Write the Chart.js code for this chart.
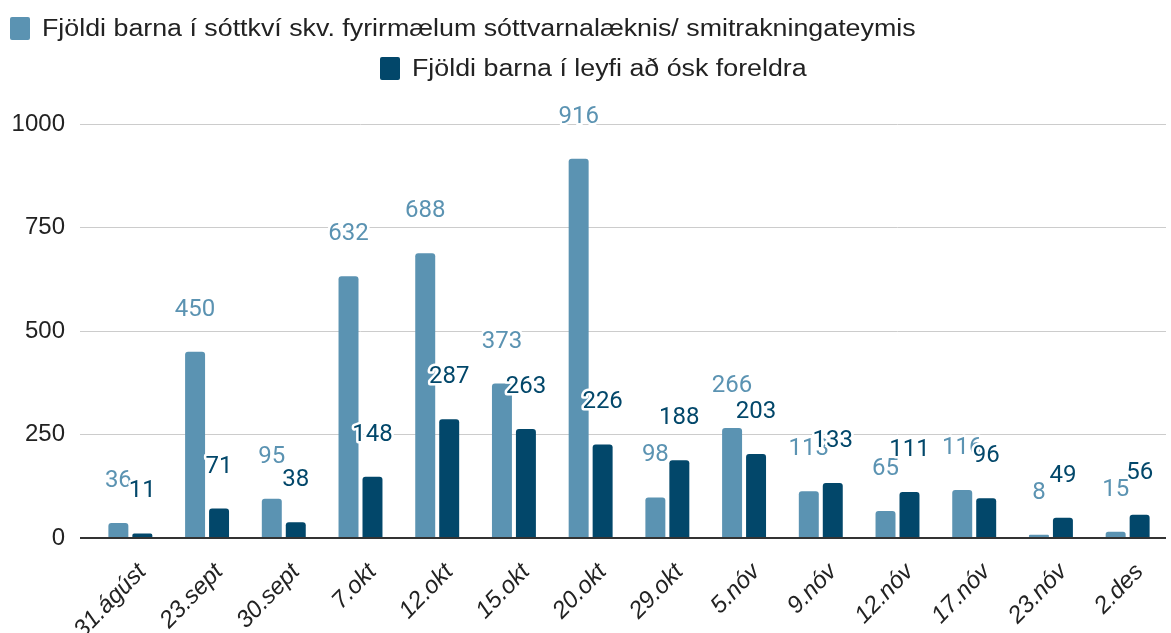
<!DOCTYPE html>
<html lang="is">
<head>
<meta charset="utf-8">
<title>Fjöldi barna</title>
<script src="https://cdn.jsdelivr.net/npm/chart.js@4/dist/chart.umd.min.js"></script>
<style>
  html, body { margin: 0; padding: 0; background: #fff; }
  #wrap { position: relative; width: 1171px; height: 633px; }
  #chart { position: absolute; left: 0; top: 0; }
  .legend-row { position: absolute; display: flex; align-items: center; font-family: "Liberation Sans", Arial, sans-serif; font-size: 23px; color: #222; white-space: nowrap; }
  .legend-row .box { width: 20px; height: 23px; border-radius: 2px; margin-right: 12px; }
  .legend-row .txt { display: inline-block; transform: scaleX(1.165); transform-origin: left center; }
</style>
</head>
<body>
<div id="wrap">
  <canvas id="chart" width="1171" height="633"></canvas>
  <div class="legend-row" id="leg0" style="left:10px; top:15px;"></div>
  <div class="legend-row" id="leg1" style="left:380px; top:55px;"></div>
</div>
<script>
const labels = ['31.ágúst', '23.sept', '30.sept', '7.okt', '12.okt', '15.okt', '20.okt',
                '29.okt', '5.nóv', '9.nóv', '12.nóv', '17.nóv', '23.nóv', '2.des'];
const seriesNames = [
  'Fjöldi barna í sóttkví skv. fyrirmælum sóttvarnalæknis/ smitrakningateymis',
  'Fjöldi barna í leyfi að ósk foreldra'
];
const quarantine = [36, 450, 95, 632, 688, 373, 916, 98, 266, 113, 65, 116, 8, 15];
const parentLeave = [11, 71, 38, 148, 287, 263, 226, 188, 203, 133, 111, 96, 49, 56];
const yTicks = [0, 250, 500, 750, 1000];

const colors = ['#5b93b2', '#02476a'];

// legend rows
seriesNames.forEach((name, i) => {
  const row = document.getElementById('leg' + i);
  const box = document.createElement('span');
  box.className = 'box';
  box.style.background = colors[i];
  const txt = document.createElement('span');
  txt.className = 'txt';
  txt.textContent = name;
  row.appendChild(box);
  row.appendChild(txt);
});

// value labels above each bar, with a white halo
const valueLabels = {
  id: 'valueLabels',
  afterDatasetsDraw(chart) {
    const ctx = chart.ctx;
    ctx.save();
    ctx.font = '24px Roboto';
    ctx.textAlign = 'center';
    ctx.textBaseline = 'middle';
    ctx.lineJoin = 'round';
    chart.data.datasets.forEach((ds, i) => {
      const meta = chart.getDatasetMeta(i);
      meta.data.forEach((bar, j) => {
        const text = String(ds.data[j]);
        const y = bar.y - 42;
        ctx.strokeStyle = '#fff';
        ctx.lineWidth = 5;
        ctx.strokeText(text, bar.x, y);
        ctx.fillStyle = colors[i];
        ctx.fillText(text, bar.x, y);
      });
    });
    ctx.restore();
  }
};

new Chart(document.getElementById('chart'), {
  type: 'bar',
  data: {
    labels: labels,
    datasets: [
      {
        label: seriesNames[0],
        data: quarantine,
        backgroundColor: colors[0],
        borderRadius: { topLeft: 3, topRight: 3 },
        borderSkipped: 'bottom',
        categoryPercentage: 0.625,
        barPercentage: 0.833
      },
      {
        label: seriesNames[1],
        data: parentLeave,
        backgroundColor: colors[1],
        borderRadius: { topLeft: 3, topRight: 3 },
        borderSkipped: 'bottom',
        categoryPercentage: 0.625,
        barPercentage: 0.833
      }
    ]
  },
  options: {
    responsive: false,
    animation: false,
    layout: { padding: { top: 124, right: 5, left: 0, bottom: 0 } },
    plugins: {
      legend: { display: false },
      tooltip: { enabled: false }
    },
    scales: {
      x: {
        grid: { display: false, drawTicks: false },
        border: { display: false },
        ticks: {
          color: '#222',
          font: { family: 'Liberation Sans', size: 24, style: 'italic' },
          minRotation: 46,
          maxRotation: 46,
          padding: 20,
          labelOffset: 12,
          autoSkip: false
        },
        afterFit(scale) { scale.height = 95; }
      },
      y: {
        min: 0,
        max: 1000,
        afterBuildTicks(scale) { scale.ticks = yTicks.map(v => ({ value: v })); },
        grid: {
          color: ctx => ctx.tick && ctx.tick.value === 0 ? '#333' : '#cccccc',
          lineWidth: ctx => ctx.tick && ctx.tick.value === 0 ? 2 : 1,
          tickLength: 12
        },
        border: { display: false },
        ticks: {
          color: '#222',
          font: { family: 'Liberation Sans', size: 24 },
          padding: 15,
          callback: v => String(v)
        },
        afterFit(scale) { scale.width = 92; }
      }
    }
  },
  plugins: [valueLabels]
});
</script>
</body>
</html>
